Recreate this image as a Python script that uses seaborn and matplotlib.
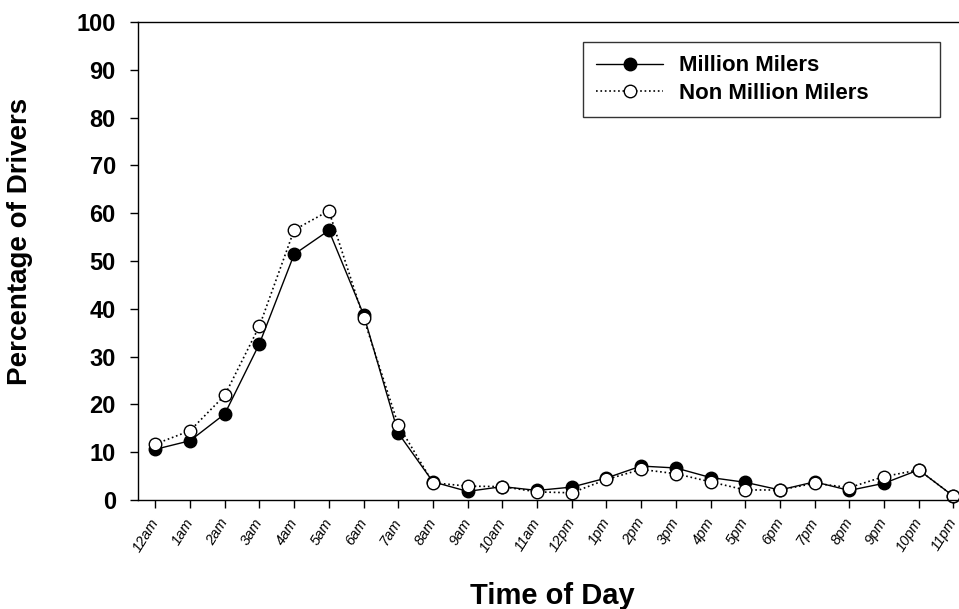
import matplotlib
matplotlib.use("Agg")
import matplotlib.pyplot as plt
import seaborn as sns
import pandas as pd

hours = ["12am", "1am", "2am", "3am", "4am", "5am", "6am", "7am", "8am", "9am",
         "10am", "11am", "12pm", "1pm", "2pm", "3pm", "4pm", "5pm", "6pm", "7pm",
         "8pm", "9pm", "10pm", "11pm"]
million_milers = [10.6, 12.4, 18.0, 32.7, 51.4, 56.4, 38.8, 14.0, 3.8, 1.8,
                  2.8, 2.0, 2.7, 4.6, 7.1, 6.7, 4.7, 3.7, 2.1, 3.8,
                  2.0, 3.5, 6.3, 0.8]
non_million_milers = [11.7, 14.5, 21.9, 36.4, 56.5, 60.5, 38.1, 15.7, 3.6, 2.9,
                      2.8, 1.7, 1.5, 4.3, 6.4, 5.5, 3.8, 2.1, 2.1, 3.5,
                      2.6, 4.9, 6.3, 0.8]
series_names = ["Million Milers", "Non Million Milers"]
y_ticks = [0, 10, 20, 30, 40, 50, 60, 70, 80, 90, 100]

df = pd.DataFrame({"hour": hours, series_names[0]: million_milers,
                   series_names[1]: non_million_milers})

sns.set_style("ticks")
plt.rcParams["font.family"] = ["Liberation Sans", "DejaVu Sans"]
for k in ["text.color", "axes.labelcolor", "xtick.color", "ytick.color", "axes.edgecolor"]:
    plt.rcParams[k] = "black"

fig = plt.figure(figsize=(9.59, 6.09), dpi=100)
ax = fig.add_axes([138 / 959, 1 - 500 / 609, (959 - 138) / 959, (500 - 22) / 609])

sns.lineplot(data=df, x="hour", y=series_names[0], ax=ax, color="black",
             linewidth=1.0, linestyle="-", marker="o", markersize=9,
             markerfacecolor="black", markeredgecolor="black",
             markeredgewidth=1.0, label=series_names[0], clip_on=False)
sns.lineplot(data=df, x="hour", y=series_names[1], ax=ax, color="black",
             linewidth=1.2, linestyle=":", marker="o", markersize=9,
             markerfacecolor="white", markeredgecolor="black",
             markeredgewidth=1.0, label=series_names[1], clip_on=False)

ax.set_xlim(-0.5, 23.16)
ax.set_ylim(0, 100)
ax.set_yticks(y_ticks)
ax.set_yticklabels([str(v) for v in y_ticks], fontsize=17, fontweight="bold")
ax.set_xticks(range(len(hours)))
ax.set_xticklabels(hours, rotation=58, fontsize=10.5, style="italic",
                   ha="right", va="center", rotation_mode="anchor")
ax.tick_params(axis="both", direction="out", length=6, width=1, color="black")
ax.tick_params(axis="y", pad=10)
ax.tick_params(axis="x", pad=8)

for s in ["left", "bottom", "top"]:
    ax.spines[s].set_visible(True)
    ax.spines[s].set_color("black")
    ax.spines[s].set_linewidth(1.0)
ax.spines["right"].set_visible(False)

ax.set_ylabel("Percentage of Drivers", fontsize=20, fontweight="bold")
ax.yaxis.set_label_coords(-0.128, 0.54)
ax.set_xlabel("Time of Day", fontsize=21, fontweight="bold")
ax.xaxis.set_label_coords(0.505, -0.172)

leg = ax.legend(loc="upper right", bbox_to_anchor=(0.542, 0.785, 0.435, 0.173),
                mode="expand", borderaxespad=0, frameon=True, fancybox=False,
                shadow=False, prop={"weight": "bold", "size": 16},
                handlelength=3.0, handletextpad=0.7, borderpad=0.6,
                labelspacing=0.3)
leg.get_frame().set_edgecolor("black")
leg.get_frame().set_linewidth(1.0)

fig.savefig("out.png", dpi=100)
